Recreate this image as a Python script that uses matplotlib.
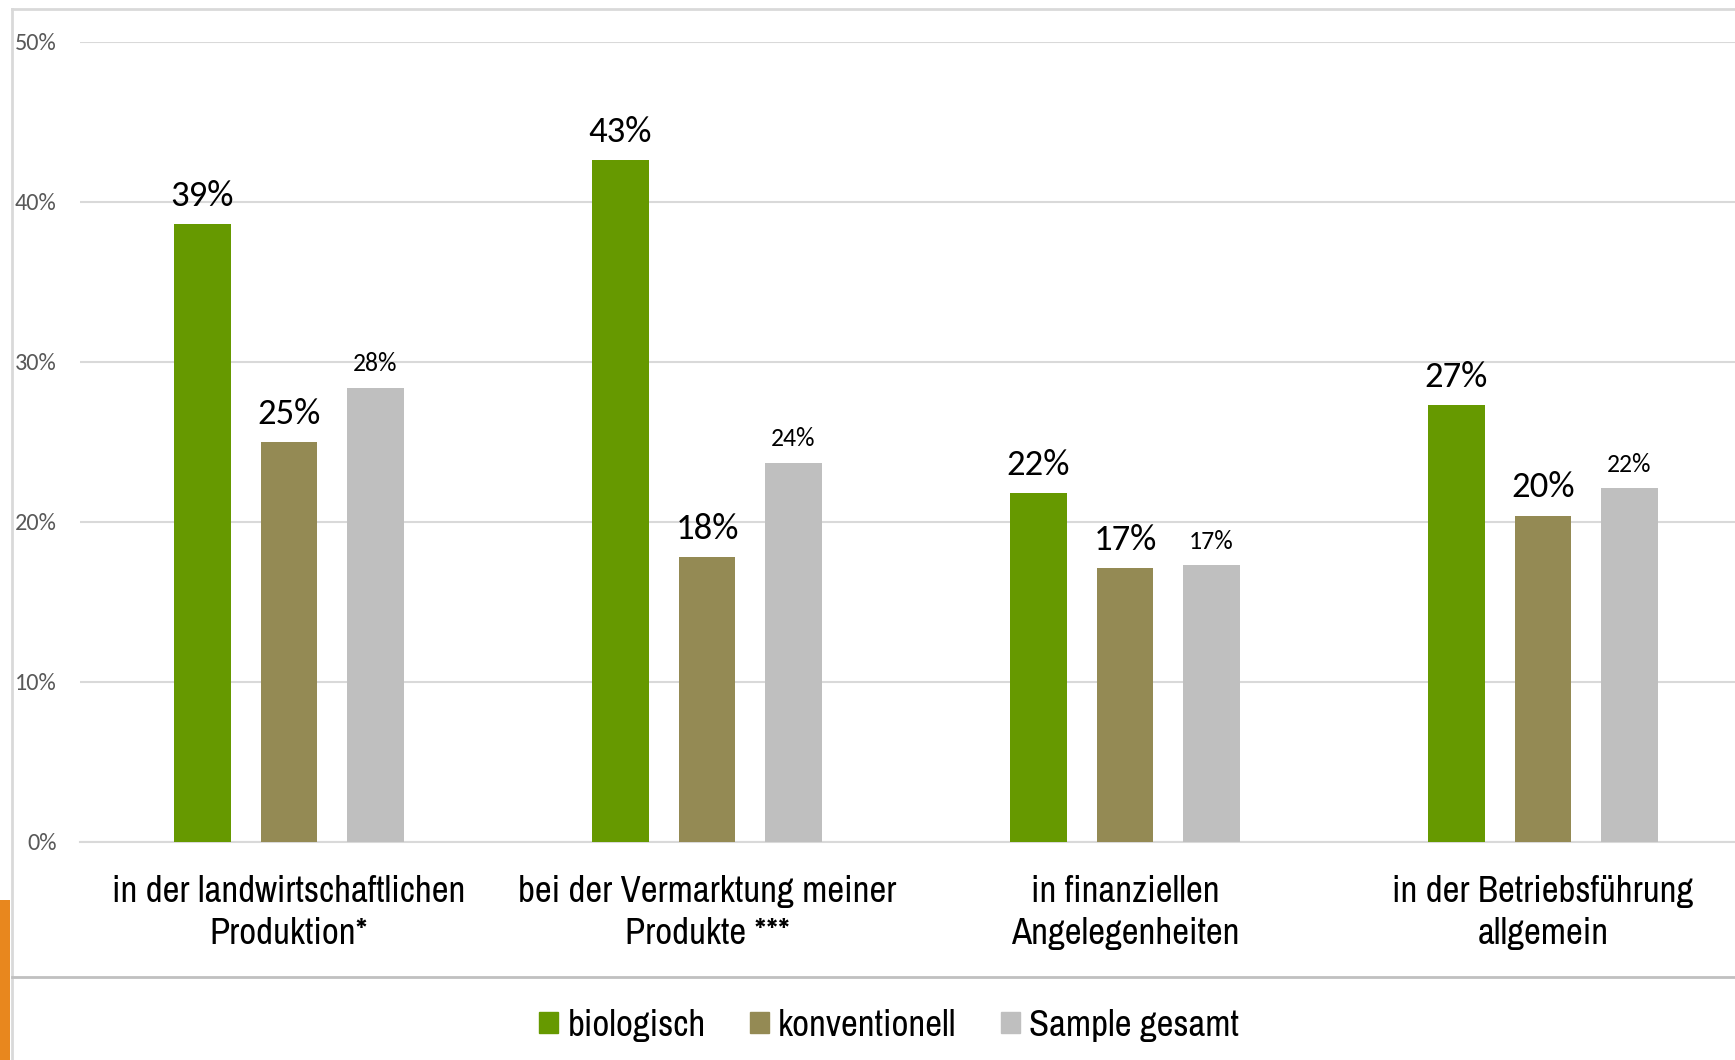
import matplotlib
matplotlib.use("Agg")
import numpy as np
import matplotlib.pyplot as plt
from matplotlib.lines import Line2D
from matplotlib.patches import Patch, Rectangle

categories = ["in der landwirtschaftlichen\nProduktion*",
              "bei der Vermarktung meiner\nProdukte ***",
              "in finanziellen\nAngelegenheiten",
              "in der Betriebsführung\nallgemein"]
series_names = ["biologisch", "konventionell", "Sample gesamt"]
biologisch = [0.386, 0.426, 0.218, 0.273]
konventionell = [0.250, 0.178, 0.171, 0.204]
sample_gesamt = [0.284, 0.237, 0.173, 0.221]
yticks = [0.0, 0.1, 0.2, 0.3, 0.4, 0.5]

colors = ["#669900", "#948A54", "#BFBFBF"]
narrow = ["Archivo Narrow", "DejaVu Sans"]
label_font = ["Carlito", "DejaVu Sans"]

fig = plt.figure(figsize=(17.35, 10.6), dpi=100)
ax = fig.add_axes([80 / 1735, 1 - 842 / 1060, (1752 - 80) / 1735, 800 / 1060])

x = np.arange(len(categories))
pitch = 0.207
width = 0.136
for k, (vals, col) in enumerate(zip([biologisch, konventionell, sample_gesamt], colors)):
    pos = x + (k - 1) * pitch
    ax.bar(pos, vals, width=width, color=col, zorder=3)
    size = 18.5 if k == 2 else 26.5
    for px, v in zip(pos, vals):
        ax.annotate(f"{v * 100:.0f}%", (px, v), xytext=(0, 9), textcoords="offset points",
                    ha="center", va="bottom", fontsize=size, family=label_font, color="black")

ax.set_xlim(-0.5, 3.5)
ax.set_ylim(0, 0.5)
ax.set_yticks(yticks)
ax.set_yticklabels([f"{t * 100:.0f}%" for t in yticks], fontsize=17.5,
                   family=label_font, color="#595959")
ax.set_xticks(x)
ax.set_xticklabels(categories, fontsize=26.5, family=narrow, linespacing=1.36)
ax.tick_params(axis="x", length=0, pad=23.5)
ax.tick_params(axis="y", length=0, pad=17)
ax.yaxis.grid(True, color="#D9D9D9", linewidth=1.5, zorder=0)
for s in ["top", "right", "left"]:
    ax.spines[s].set_visible(False)
ax.spines["bottom"].set_color("#D9D9D9")
ax.spines["bottom"].set_linewidth(1.5)

# outer frame and separator above the legend
fig.add_artist(Line2D([12 / 1735, 12 / 1735], [0, 1 - 9 / 1060], color="#D9D9D9", lw=2))
fig.add_artist(Line2D([12 / 1735, 1], [1 - 9 / 1060, 1 - 9 / 1060], color="#D9D9D9", lw=2))
fig.add_artist(Line2D([12 / 1735, 1], [1 - 977 / 1060, 1 - 977 / 1060], color="#C0C0C0", lw=2))
fig.add_artist(Rectangle((0, 0), 10 / 1735, 160 / 1060, transform=fig.transFigure,
                         color="#E8871E", lw=0))

handles = [Patch(color=c) for c in colors]
fig.legend(handles, series_names, loc="center", bbox_to_anchor=(889 / 1735, 1 - 1025 / 1060),
           ncol=3, frameon=False, prop={"family": narrow, "size": 26.5},
           handlelength=0.52, handleheight=0.52, handletextpad=0.25, columnspacing=1.2)

fig.savefig("out.png", dpi=100)
